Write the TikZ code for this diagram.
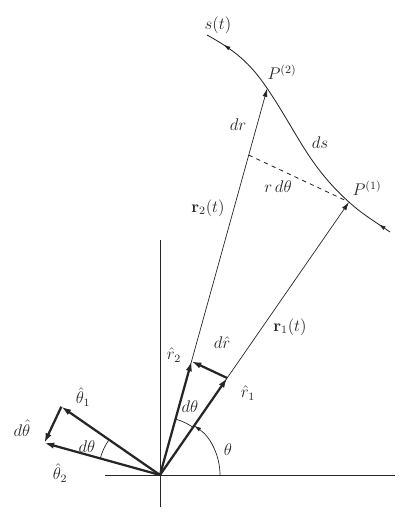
\documentclass[tikz,border=0pt]{standalone}
\usepackage{amsfonts, amsmath, amssymb}
\usepackage{tikz}
\usetikzlibrary{quotes, angles, arrows.meta, decorations.markings}

\tikzset{
  vec/.style={line width=0.5pt, -{Latex[length=6pt,width=3.5pt]}},
  unitvec/.style={line width=1.6pt, -{Latex[length=7pt,width=4.5pt]}},
  curvearrow/.style={postaction={decorate}, decoration={markings,
    mark=at position 0.05 with {\arrow{Latex[length=5pt,width=3pt]}},
    mark=at position 0.93 with {\arrow{Latex[length=5pt,width=3pt]}}}},
  lbl/.style={font=\large, inner sep=1pt}
}

\begin{document}
\begin{tikzpicture}[color=black!85]
\useasboundingbox (-4.0,-1.075) rectangle (6.025,11.875);
% axes
\coordinate (O) at (0,0);
\coordinate (xl) at (-1.375,0);
\coordinate (xr) at (5.875,0);
\coordinate (yb) at (0,-0.8);
\coordinate (yt) at (0,5.875);
\draw[line width=0.6pt] (xl)--(xr);
\draw[line width=0.6pt] (yb)--(yt);
% points
\coordinate (P1) at (55.3:8.3);
\coordinate (P2) at (74.5:10.03);
\coordinate (D) at (74.5:8.3);
\coordinate (r1) at (55.3:2.95);
\coordinate (r2) at (74.5:2.95);
\coordinate (t1) at (145.3:3.0);
\coordinate (t2) at (164.5:3.0);
\coordinate (sbeg) at (5.75,6.075);
\coordinate (send) at (1.175,11.0);
% the curve s(t)
\draw[line width=0.6pt, curvearrow] (sbeg) to[out=145, in=-42] (P1)
  to[out=138, in=-56] (P2) to[out=124, in=-29] (send);
% position vectors
\draw[vec] (O)--(P1);
\draw[vec] (O)--(P2);
\draw[dashed, line width=0.6pt] (D)--(P1);
% unit vectors
\draw[unitvec] (O)--(r1);
\draw[unitvec] (O)--(r2);
\draw[unitvec] (r1)--(r2);
\draw[unitvec] (O)--(t1);
\draw[unitvec] (O)--(t2);
\draw[unitvec] (t1)--(t2);
% angles
\pic [draw, line width=0.5pt, -{Latex[length=5pt,width=3pt]}, angle radius=1.5cm] {angle=xr--O--r1};
\pic [draw, line width=0.5pt, angle radius=1.45cm] {angle=r1--O--r2};
\pic [draw, line width=0.5pt, angle radius=1.55cm] {angle=t1--O--t2};
% labels
\node[lbl] (lst) at (1.45,11.25) {$s(t)$};
\node[lbl] (lP2) at (3.05,10.075) {$P^{(2)}$};
\node[lbl] (lP1) at (5.175,7.175) {$P^{(1)}$};
\node[lbl] (ldr) at (1.95,8.75) {$dr$};
\node[lbl] (lds) at (4.0,8.3) {$ds$};
\node[lbl] (lrdt) at (2.95,7.2) {$r\,d\theta$};
\node[lbl] (lr2t) at (1.2,6.675) {$\mathbf{r}_2(t)$};
\node[lbl] (lr1t) at (3.25,3.7) {$\mathbf{r}_1(t)$};
\node[lbl] (ldrh) at (1.55,3.3) {$d\hat{r}$};
\node[lbl] (lrh2) at (0.35,3.0) {$\hat{r}_2$};
\node[lbl] (lrh1) at (2.2,2.05) {$\hat{r}_1$};
\node[lbl] (ldtr) at (0.75,1.7) {$d\theta$};
\node[lbl] (lth) at (1.7,0.625) {$\theta$};
\node[lbl] (lth1) at (-1.925,1.95) {$\hat{\theta}_1$};
\node[lbl] (ldth) at (-3.45,1.175) {$d\hat{\theta}$};
\node[lbl] (lth2) at (-2.5,0.05) {$\hat{\theta}_2$};
\node[lbl] (ldtt) at (-1.825,0.7) {$d\theta$};
\end{tikzpicture}
\end{document}
